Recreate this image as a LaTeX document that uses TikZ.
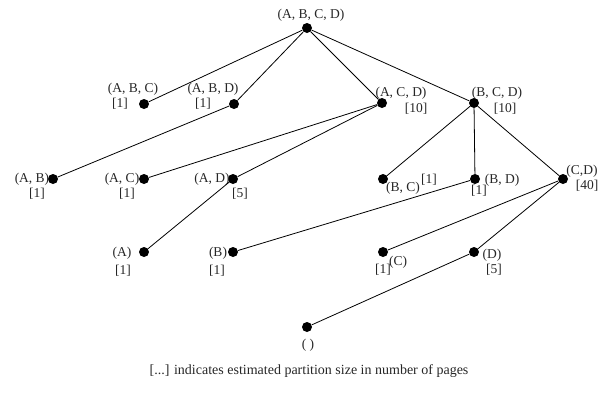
\documentclass[tikz,border=0pt]{standalone}
\usepackage{fontspec}
\setmainfont{Liberation Serif}
\usetikzlibrary{positioning}

\begin{document}
\begin{tikzpicture}[
        x=1pt, y=-1pt,
        dot/.style={circle, fill=black, inner sep=0pt, minimum size=10pt},
        link/.style={draw=black, line width=0.8pt},
        lbl/.style={font=\fontsize{13.5}{15}\selectfont, text=black!85, inner sep=0pt}
    ]
    \useasboundingbox (0,0) rectangle (606,394);

    % Partition nodes
    \node[dot] (abcd) at (307,28) {};
    \node[dot] (abc) at (144,104) {};
    \node[dot] (abd) at (234,104) {};
    \node[dot] (acd) at (382,103) {};
    \node[dot] (bcd) at (474,103) {};
    \node[dot] (ab) at (53,179) {};
    \node[dot] (ac) at (144,179) {};
    \node[dot] (ad) at (233,179) {};
    \node[dot] (bc) at (383,179) {};
    \node[dot] (bd) at (475,179) {};
    \node[dot] (cd) at (563,179) {};
    \node[dot] (a) at (144,252) {};
    \node[dot] (b) at (233,252) {};
    \node[dot] (c) at (383,252) {};
    \node[dot] (d) at (474,252) {};
    \node[dot] (none) at (307,327) {};

    % Names and sizes
    \node[lbl] (abcd-n) at (311,15) {(A, B, C, D)};
    \node[lbl] (abc-n) at (133,89) {(A, B, C)};
    \node[lbl] (abc-s) at (120,104) {[1]};
    \node[lbl] (abd-n) at (213,89) {(A, B, D)};
    \node[lbl] (abd-s) at (203,104) {[1]};
    \node[lbl] (acd-n) at (401,93) {(A, C, D)};
    \node[lbl] (acd-s) at (416,109) {[10]};
    \node[lbl] (bcd-n) at (497,93) {(B, C, D)};
    \node[lbl] (bcd-s) at (505,109) {[10]};
    \node[lbl] (ab-n) at (32,179) {(A, B)};
    \node[lbl] (ab-s) at (37,194) {[1]};
    \node[lbl] (ac-n) at (122,179) {(A, C)};
    \node[lbl] (ac-s) at (127,194) {[1]};
    \node[lbl] (ad-n) at (212,179) {(A, D)};
    \node[lbl] (ad-s) at (240,194) {[5]};
    \node[lbl] (bc-n) at (403,188) {(B, C)};
    \node[lbl] (bc-s) at (429,180) {[1]};
    \node[lbl] (bd-n) at (502,180) {(B, D)};
    \node[lbl] (bd-s) at (479,191) {[1]};
    \node[lbl] (cd-n) at (582,171) {(C,D)};
    \node[lbl] (cd-s) at (587,186) {[40]};
    \node[lbl] (a-n) at (122,253) {(A)};
    \node[lbl] (a-s) at (123,271) {[1]};
    \node[lbl] (b-n) at (218,253) {(B)};
    \node[lbl] (b-s) at (217,271) {[1]};
    \node[lbl] (c-n) at (398,262) {(C)};
    \node[lbl] (c-s) at (383,270) {[1]};
    \node[lbl] (d-n) at (492,255) {(D)};
    \node[lbl] (d-s) at (494,270) {[5]};
    \node[lbl] (none-n) at (308,345) {( )};

    \node[lbl, font=\fontsize{14}{16}\selectfont] (note) at (309,371)
        {[...] indicates estimated partition size in number of pages};

    % Links
    \draw[link] (abcd) -- (abc);
    \draw[link] (abcd) -- (abd);
    \draw[link] (abcd) -- (acd);
    \draw[link] (abcd) -- (bcd);
    \draw[link] (abd) -- (ab);
    \draw[link] (acd) -- (ac);
    \draw[link] (acd) -- (ad);
    \draw[link] (bcd) -- (bc);
    \draw[link] (bcd) -- (bd);
    \draw[link] (bcd) -- (cd);
    \draw[link] (ad) -- (a);
    \draw[link] (bd) -- (b);
    \draw[link] (cd) -- (c);
    \draw[link] (cd) -- (d);
    \draw[link] (d) -- (none);
\end{tikzpicture}
\end{document}
